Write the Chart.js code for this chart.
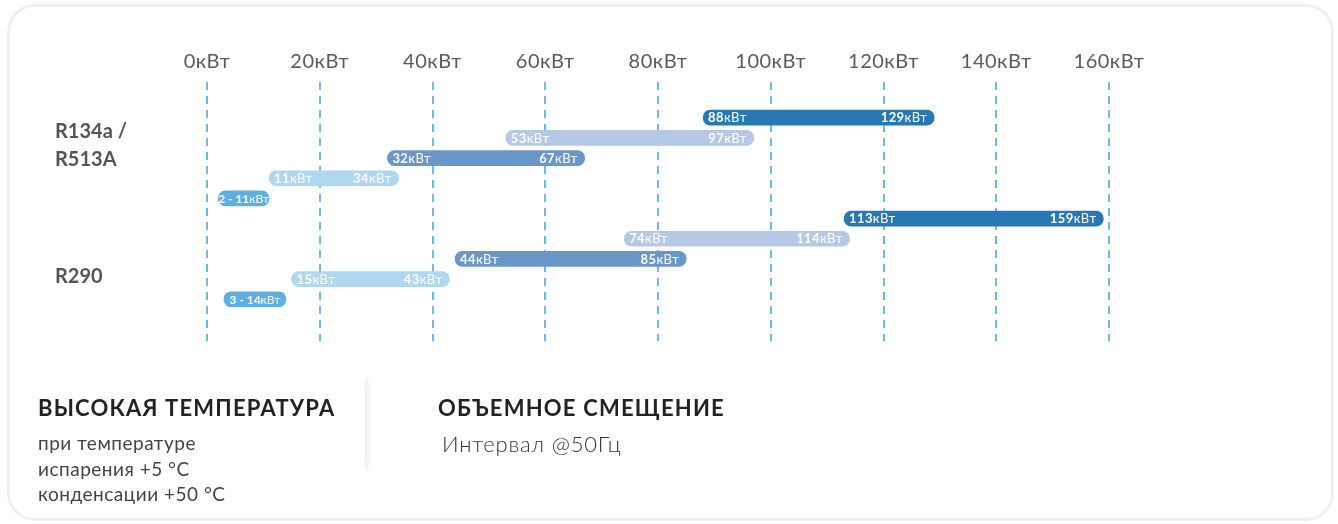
<!DOCTYPE html>
<html>
<head>
<meta charset="utf-8">
<script src="https://cdn.jsdelivr.net/npm/chart.js@4.4.1/dist/chart.umd.min.js"></script>
<style>
  html, body { margin:0; padding:0; background:#fff; width:1338px; height:524px; overflow:hidden; font-family: Lato, "Open Sans", sans-serif; }
  #card { position:absolute; left:7px; top:4px; width:1321px; height:511px; border:3px solid #efefef; border-radius:28px; }
  #c { position:absolute; left:0; top:0; }
  .grp { position:absolute; left:55px; font-weight:700; font-size:20px; line-height:28px; color:#555; white-space:nowrap; }
  #note { position:absolute; left:18px; top:375px; width:347px; height:98px; background:#fff; box-shadow: 6px 0 8px -5px rgba(0,0,0,0.12); }
  .h { position:absolute; font-weight:700; font-size:22px; letter-spacing:1.2px; line-height:24px; color:#222; white-space:nowrap; }
  .t { position:absolute; font-size:19px; letter-spacing:0.5px; line-height:25.5px; color:#444; white-space:nowrap; }
</style>
</head>
<body>
<div id="card"></div>
<div id="note"></div>
<canvas id="c" width="1338" height="524"></canvas>
<div id="groups"></div>
<div class="h" id="h1" style="left:38px; top:396px;"></div>
<div class="t" id="t1" style="left:38px; top:430px;"></div>
<div class="h" id="h2" style="left:438px; top:396px;"></div>
<div class="t" id="t2" style="left:442px; top:431px; font-size:22px; letter-spacing:0.8px; font-weight:300; color:#333;"></div>
<script>
// ---- data ----
const groupLabels = [['R134a /', 'R513A'], ['R290']];
const minValues = [88, 53, 32, 11, 2, 113, 74, 44, 15, 3];
const maxValues = [129, 97, 67, 34, 11, 159, 114, 85, 43, 14];
const tickValues = [0, 20, 40, 60, 80, 100, 120, 140, 160];
const tickLabels = ['0кВт', '20кВт', '40кВт', '60кВт', '80кВт', '100кВт', '120кВт', '140кВт', '160кВт'];
const unit = 'кВт';
const heading1 = 'ВЫСОКАЯ ТЕМПЕРАТУРА';
const text1 = ['при температуре', 'испарения +5 °C', 'конденсации +50 °C'];
const heading2 = 'ОБЪЕМНОЕ СМЕЩЕНИЕ';
const text2 = 'Интервал @50Гц';

// ---- styles ----
const rowColors = ['#2878b4', '#b5c8e6', '#6a97c7', '#afd7f0', '#5eaee2'];
const gridColor = '#6eb9e6';

// ---- html text ----
const gTops = [116, 261];
document.getElementById('groups').innerHTML = groupLabels.map((g, i) =>
  '<div class="grp" style="top:' + gTops[i] + 'px">' + g.join('<br>') + '</div>').join('');
document.getElementById('h1').textContent = heading1;
document.getElementById('t1').innerHTML = text1.join('<br>');
document.getElementById('h2').textContent = heading2;
document.getElementById('t2').textContent = text2;

// ---- chart ----
const barData = minValues.map((v, i) => ({ x: [v, maxValues[i]], y: i }));

function drawLabel(ctx, num, x, y, align, size, spacing) {
  ctx.letterSpacing = spacing + 'px';
  const nf = '700 ' + size + 'px Lato', uf = '400 ' + size + 'px Lato';
  ctx.font = nf; const wn = ctx.measureText(num).width;
  ctx.font = uf; const wu = ctx.measureText(unit).width;
  let x0 = x;
  if (align === 'right') x0 = x - wn - wu;
  if (align === 'center') x0 = x - (wn + wu) / 2;
  ctx.textAlign = 'left';
  ctx.font = nf; ctx.fillText(num, x0, y);
  ctx.font = uf; ctx.fillText(unit, x0 + wn, y);
}

const barLabels = {
  id: 'barLabels',
  beforeDraw(chart) { chart.ctx.letterSpacing = '0.5px'; },
  beforeDatasetsDraw(chart) { chart.ctx.letterSpacing = '0px'; },
  afterDatasetsDraw(chart) {
    const ctx = chart.ctx;
    const meta = chart.getDatasetMeta(0);
    ctx.save();
    ctx.fillStyle = '#ffffff';
    ctx.textBaseline = 'middle';
    meta.data.forEach((bar, i) => {
      const left = Math.min(bar.x, bar.base), right = Math.max(bar.x, bar.base);
      const y = bar.y + 0.5;
      if (right - left < 80) {
        drawLabel(ctx, minValues[i] + ' - ' + maxValues[i], (left + right) / 2, y, 'center', 12, 0);
      } else {
        drawLabel(ctx, String(minValues[i]), left + 5, y, 'left', 13, 0.4);
        drawLabel(ctx, String(maxValues[i]), right - 7, y, 'right', 13, 0.4);
      }
    });
    ctx.restore();
    ctx.letterSpacing = '0px';
  }
};

new Chart(document.getElementById('c'), {
  type: 'bar',
  data: {
    datasets: [{
      data: barData,
      backgroundColor: barData.map((d, i) => rowColors[i % rowColors.length]),
      borderRadius: 8,
      borderSkipped: false,
      barThickness: 15
    }]
  },
  options: {
    indexAxis: 'y',
    responsive: false,
    animation: false,
    events: [],
    layout: { padding: { left: 207, right: 229, top: 42, bottom: 183 } },
    plugins: { legend: { display: false }, tooltip: { enabled: false } },
    scales: {
      x: {
        type: 'linear',
        position: 'top',
        min: 0, max: 160,
        afterBuildTicks: (scale) => { scale.ticks = tickValues.map(v => ({ value: v })); },
        ticks: {
          callback: (v) => tickLabels[tickValues.indexOf(v)],
          color: '#5a5a5a',
          font: { family: 'Lato', size: 20, weight: '400' },
          padding: 8,
          maxRotation: 0,
          autoSkip: false
        },
        grid: { color: gridColor, lineWidth: 2, drawTicks: false },
        border: { display: false, dash: [8, 6] }
      },
      y: {
        type: 'linear',
        reverse: true,
        offset: false,
        min: -1.77, max: 11.07,
        display: false
      }
    }
  },
  plugins: [barLabels]
});
</script>
</body>
</html>
